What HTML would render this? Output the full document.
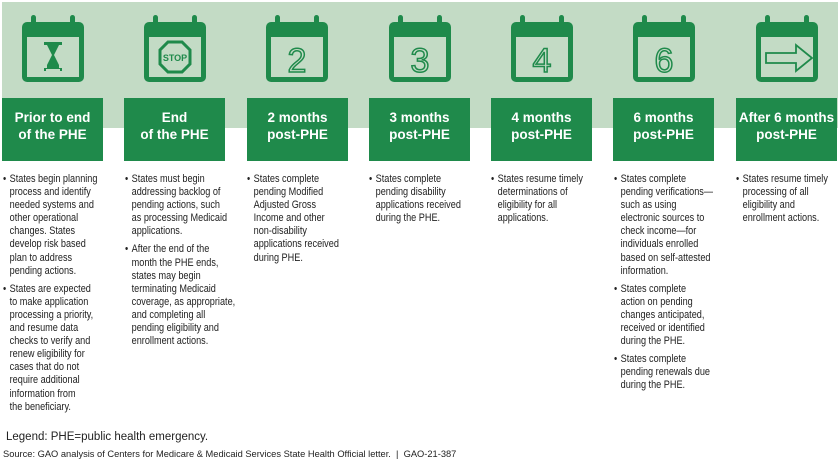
<!DOCTYPE html>
<html><head><meta charset="utf-8"><style>
body{margin:0;width:840px;height:462px;background:#fff;font-family:"Liberation Sans",Arial,sans-serif;position:relative;overflow:hidden}
.band{position:absolute;left:2px;top:2px;width:836px;height:126px;background:#c3dbc5}
.box{position:absolute;top:98px;width:101px;height:63px;box-sizing:border-box;padding-bottom:8px;background:#1f8a4b;color:#fff;font-weight:bold;font-size:13.5px;line-height:17px;text-align:center;display:flex;align-items:center;justify-content:center}
.ic{position:absolute;top:12px}
.col{position:absolute;top:173px;font-size:11px;line-height:13.1px;color:#222;transform:scaleX(0.83);transform-origin:0 0}
.col p{margin:0 0 5px 0;padding-left:8px;position:relative;white-space:nowrap}
.col p:before{content:"•";position:absolute;left:0;top:0}
.leg{position:absolute;left:6px;top:431px;font-size:11.5px;color:#222}
.src{position:absolute;left:3px;top:449px;font-size:9.3px;color:#222}
</style></head><body>
<div class="band"></div>
<svg width="0" height="0" style="position:absolute"><defs>
<g id="cal">
<rect x="0" y="10" width="62" height="60" rx="5" fill="#1f8a4b"/>
<rect x="5" y="25" width="52" height="40" fill="#c3dbc5"/>
<rect x="9" y="3" width="5" height="14" rx="2.5" fill="#1f8a4b"/>
<rect x="48" y="3" width="5" height="14" rx="2.5" fill="#1f8a4b"/>
</g></defs></svg>
<svg class="ic" style="left:22px" width="64" height="74"><use href="#cal"/>
<path d="M22 30h18v3h-3l-5 10 5 10v3h3v3H22v-3h3v-3l5-10-5-10h-3z" fill="#1f8a4b"/><rect x="24" y="57" width="14" height="2" fill="#c3dbc5"/></svg>
<svg class="ic" style="left:144px" width="64" height="74"><use href="#cal"/>
<polygon points="24,30 38,30 46,38 46,52 38,60 24,60 16,52 16,38" fill="none" stroke="#1f8a4b" stroke-width="3"/>
<text x="31" y="49" font-size="9" font-weight="bold" fill="#1f8a4b" text-anchor="middle" font-family="Liberation Sans,sans-serif">STOP</text></svg>
<svg class="ic" style="left:266px" width="64" height="74"><use href="#cal"/><text x="31" y="60" font-size="34" fill="#c3dbc5" stroke="#1f8a4b" stroke-width="1.5" text-anchor="middle" font-family="Liberation Sans,sans-serif">2</text></svg>
<svg class="ic" style="left:389px" width="64" height="74"><use href="#cal"/><text x="31" y="60" font-size="34" fill="#c3dbc5" stroke="#1f8a4b" stroke-width="1.5" text-anchor="middle" font-family="Liberation Sans,sans-serif">3</text></svg>
<svg class="ic" style="left:511px" width="64" height="74"><use href="#cal"/><text x="31" y="60" font-size="34" fill="#c3dbc5" stroke="#1f8a4b" stroke-width="1.5" text-anchor="middle" font-family="Liberation Sans,sans-serif">4</text></svg>
<svg class="ic" style="left:633px" width="64" height="74"><use href="#cal"/><text x="31" y="60" font-size="34" fill="#c3dbc5" stroke="#1f8a4b" stroke-width="1.5" text-anchor="middle" font-family="Liberation Sans,sans-serif">6</text></svg>
<svg class="ic" style="left:756px" width="64" height="74"><use href="#cal"/>
<path d="M10 41h30v-8l16 13-16 13v-8H10z" fill="none" stroke="#1f8a4b" stroke-width="1.8"/></svg>
<div class="box" style="left:2px">Prior to end<br>of the PHE</div>
<div class="box" style="left:124px">End<br>of the PHE</div>
<div class="box" style="left:247px">2 months<br>post-PHE</div>
<div class="box" style="left:369px">3 months<br>post-PHE</div>
<div class="box" style="left:491px">4 months<br>post-PHE</div>
<div class="box" style="left:613px">6 months<br>post-PHE</div>
<div class="box" style="left:736px">After 6 months<br>post-PHE</div>
<div class="col" style="left:3px"><p>States begin planning<br>process and identify<br>needed systems and<br>other operational<br>changes. States<br>develop risk based<br>plan to address<br>pending actions.</p><p>States are expected<br>to make application<br>processing a priority,<br>and resume data<br>checks to verify and<br>renew eligibility for<br>cases that do not<br>require additional<br>information from<br>the beneficiary.</p></div>
<div class="col" style="left:125px"><p>States must begin<br>addressing backlog of<br>pending actions, such<br>as processing Medicaid<br>applications.</p><p>After the end of the<br>month the PHE ends,<br>states may begin<br>terminating Medicaid<br>coverage, as appropriate,<br>and completing all<br>pending eligibility and<br>enrollment actions.</p></div>
<div class="col" style="left:247px"><p>States complete<br>pending Modified<br>Adjusted Gross<br>Income and other<br>non-disability<br>applications received<br>during PHE.</p></div>
<div class="col" style="left:369px"><p>States complete<br>pending disability<br>applications received<br>during the PHE.</p></div>
<div class="col" style="left:491px"><p>States resume timely<br>determinations of<br>eligibility for all<br>applications.</p></div>
<div class="col" style="left:614px"><p>States complete<br>pending verifications—<br>such as using<br>electronic sources to<br>check income—for<br>individuals enrolled<br>based on self-attested<br>information.</p><p>States complete<br>action on pending<br>changes anticipated,<br>received or identified<br>during the PHE.</p><p>States complete<br>pending renewals due<br>during the PHE.</p></div>
<div class="col" style="left:736px"><p>States resume timely<br>processing of all<br>eligibility and<br>enrollment actions.</p></div>
<div class="leg">Legend: PHE=public health emergency.</div>
<div class="src">Source: GAO analysis of Centers for Medicare &amp; Medicaid Services State Health Official letter.&nbsp; |&nbsp; GAO-21-387</div>
</body></html>
